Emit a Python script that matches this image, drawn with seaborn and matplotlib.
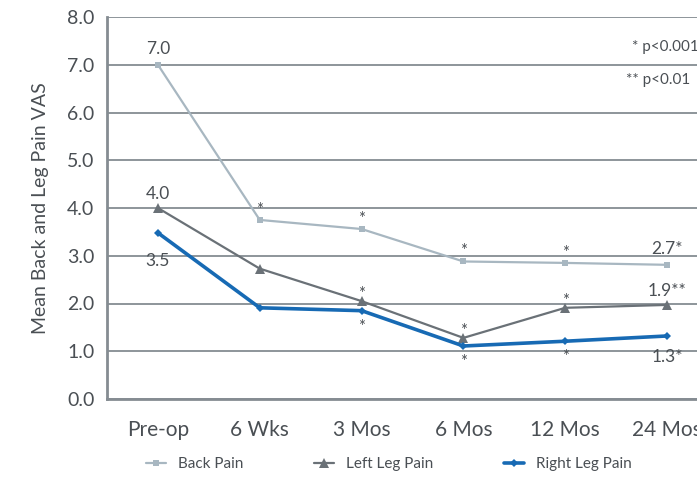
import pandas as pd
import seaborn as sns
import matplotlib.pyplot as plt
from matplotlib.ticker import MultipleLocator, FixedLocator

# data
timepoints = ['Pre-op', '6 Wks', '3 Mos', '6 Mos', '12 Mos', '24 Mos']
back_pain = [7.0, 3.75, 3.56, 2.88, 2.85, 2.81]
left_leg_pain = [4.0, 2.73, 2.05, 1.28, 1.91, 1.97]
right_leg_pain = [3.48, 1.91, 1.85, 1.11, 1.21, 1.32]

# labels next to the points
back_notes = ['7.0', '*', '*', '*', '*', '2.7*']
left_notes = ['4.0', '', '*', '*', '*', '1.9**']
right_notes = ['3.5', '', '*', '*', '*', '1.3*']

sns.set_theme(style='white')
plt.rcParams['font.family'] = ['Lato', 'DejaVu Sans']

text_col = '#4a4f54'
grid_col = '#858c92'
colors = {'Back Pain': '#a8b7c1', 'Left Leg Pain': '#6a7177', 'Right Leg Pain': '#176ab4'}
markers = {'Back Pain': 's', 'Left Leg Pain': '^', 'Right Leg Pain': 'D'}
widths = {'Back Pain': 1.6, 'Left Leg Pain': 1.6, 'Right Leg Pain': 2.6}
msizes = {'Back Pain': 5, 'Left Leg Pain': 7, 'Right Leg Pain': 4.5}

df = pd.DataFrame({
    'x': list(range(len(timepoints))) * 3,
    'value': back_pain + left_leg_pain + right_leg_pain,
    'series': ['Back Pain'] * 6 + ['Left Leg Pain'] * 6 + ['Right Leg Pain'] * 6,
})

fig = plt.figure(figsize=(6.97, 4.78), dpi=100)
ax = fig.add_axes([107 / 697, 1 - 399 / 478, 611 / 697, 382 / 478])

for name, sub in df.groupby('series', sort=False):
    sns.lineplot(data=sub, x='x', y='value', ax=ax, color=colors[name],
                 marker=markers[name], markersize=msizes[name], markeredgewidth=0,
                 linewidth=widths[name], label=name, legend=False)

ax.set_xlim(-0.5, 5.5)
ax.set_ylim(0, 8)
ax.set_yticks(range(9))
ax.set_yticklabels([f'{v:.1f}' for v in range(9)])
ax.set_xticks(range(len(timepoints)))
ax.set_xticklabels(timepoints)
ax.xaxis.set_minor_locator(FixedLocator([i - 0.5 for i in range(7)]))
ax.tick_params(axis='x', which='major', length=0, pad=15, labelsize=15, labelcolor=text_col)
ax.tick_params(axis='x', which='minor', length=7, width=1.5, color=grid_col, direction='out')
ax.tick_params(axis='y', which='major', length=6, width=1.5, color=grid_col, direction='out',
               labelsize=14, labelcolor=text_col, pad=3)
ax.grid(axis='y', color=grid_col, linewidth=1.3)
ax.set_axisbelow(True)
for s in ['top', 'right']:
    ax.spines[s].set_visible(False)
for s in ['left', 'bottom']:
    ax.spines[s].set_color(grid_col)
    ax.spines[s].set_linewidth(2)
ax.set_xlabel('')
ax.set_ylabel('Mean Back and Leg Pain VAS', fontsize=14, color=text_col, labelpad=13)


def annotate(values, notes, dy_num, dy_star):
    # offsets in pixels (dpi 100)
    for i, (v, t) in enumerate(zip(values, notes)):
        if not t:
            continue
        if t == '*':
            fs, dy = 12, dy_star
        else:
            fs, dy = 12.5, dy_num
        ax.annotate(t, (i, v), xytext=(0, dy * 0.72), textcoords='offset points',
                    ha='center', va='center', fontsize=fs, color=text_col)


annotate(back_pain, back_notes, 16, 10)
annotate(left_leg_pain, left_notes, 14, 7)
annotate(right_leg_pain, right_notes, -28, -16)
ax.texts[-1].set_position((0, -21 * 0.72))  # 1.3* sits closer to its point

fig.text(632 / 697, 1 - 47 / 478, '* p<0.001', ha='left', va='center',
         fontsize=11, color=text_col)
fig.text(690 / 697, 1 - 80 / 478, '** p<0.01', ha='right', va='center',
         fontsize=11, color=text_col)

handles, labels = ax.get_legend_handles_labels()
fig.legend(handles, labels, loc='center', bbox_to_anchor=(389 / 697, 1 - 464 / 478),
           ncol=3, frameon=False, fontsize=11, handlelength=1.3, handletextpad=0.8,
           columnspacing=4.6, labelcolor=text_col)

fig.savefig('out.png', dpi=100)
